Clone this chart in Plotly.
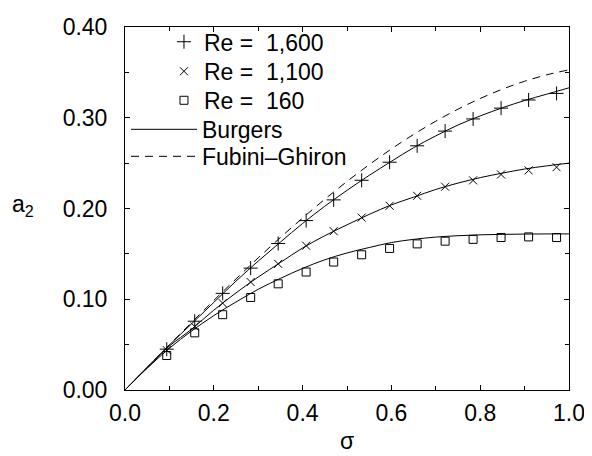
import plotly.graph_objects as go

# ---- data ----
sigma_pts = [0.094, 0.157, 0.220, 0.283, 0.345, 0.408, 0.470, 0.533, 0.596,
             0.658, 0.721, 0.784, 0.847, 0.909, 0.972]
re1600_pts = [0.045, 0.0758, 0.1065, 0.1343, 0.1614, 0.1867, 0.2095, 0.2311,
              0.2510, 0.2691, 0.2853, 0.2987, 0.3106, 0.3196, 0.3268]
re1100_pts = [0.044, 0.0700, 0.0957, 0.1190, 0.1390, 0.1590, 0.1750, 0.1900,
              0.2030, 0.2140, 0.2240, 0.2310, 0.2375, 0.2420, 0.2455]
re160_pts = [0.038, 0.0630, 0.0830, 0.1020, 0.1170, 0.1300, 0.1410, 0.1490,
             0.1560, 0.1610, 0.1640, 0.1660, 0.1680, 0.1687, 0.1680]

sigma_curve = [0.0, 0.05, 0.10, 0.15, 0.20, 0.25, 0.30, 0.35, 0.40, 0.45, 0.50,
               0.55, 0.60, 0.65, 0.70, 0.75, 0.80, 0.85, 0.90, 0.95, 1.00]
burgers_1600 = [0.0, 0.0249, 0.0496, 0.0730, 0.0965, 0.1200, 0.1420, 0.1630,
                0.1835, 0.2025, 0.2200, 0.2365, 0.2520, 0.2670, 0.2800, 0.2920,
                0.3020, 0.3110, 0.3190, 0.3260, 0.3330]
burgers_1100 = [0.0, 0.0248, 0.0485, 0.0670, 0.0880, 0.1070, 0.1245, 0.1405,
                0.1565, 0.1700, 0.1820, 0.1935, 0.2040, 0.2125, 0.2210, 0.2280,
                0.2340, 0.2390, 0.2435, 0.2470, 0.2500]
burgers_160 = [0.0, 0.0240, 0.0460, 0.0650, 0.0820, 0.0970, 0.1110, 0.1230,
               0.1340, 0.1435, 0.1510, 0.1570, 0.1625, 0.1660, 0.1685, 0.1700,
               0.1710, 0.1715, 0.1718, 0.1720, 0.1720]
fubini = [0.0, 0.0250, 0.0498, 0.0744, 0.0987, 0.1224, 0.1456, 0.1680, 0.1895,
          0.2102, 0.2298, 0.2483, 0.2656, 0.2816, 0.2962, 0.3095, 0.3212,
          0.3315, 0.3402, 0.3473, 0.3528]

x_ticks = [0.0, 0.2, 0.4, 0.6, 0.8, 1.0]
x_ticklabels = ["0.0", "0.2", "0.4", "0.6", "0.8", "1.0"]
y_ticks = [0.0, 0.1, 0.2, 0.3, 0.4]
y_ticklabels = ["0.00", "0.10", "0.20", "0.30", "0.40"]

FONT = "Liberation Sans, Arial, sans-serif"
NB = "\u00a0"

fig = go.Figure()
fig.add_trace(go.Scatter(x=sigma_pts, y=re1600_pts, mode="markers",
                         name="Re =" + NB * 2 + "1,600", legend="legend",
                         marker=dict(symbol="cross-thin", size=10, color="black",
                                     line=dict(color="black", width=1))))
fig.add_trace(go.Scatter(x=sigma_pts, y=re1100_pts, mode="markers",
                         name="Re =" + NB * 2 + "1,100", legend="legend2",
                         marker=dict(symbol="x-thin", size=8, color="black",
                                     line=dict(color="black", width=1))))
fig.add_trace(go.Scatter(x=sigma_pts, y=re160_pts, mode="markers",
                         name="Re =" + NB * 2 + "160", legend="legend3",
                         marker=dict(symbol="square-open", size=8, color="black",
                                     line=dict(color="black", width=1))))
for i, ys in enumerate([burgers_1600, burgers_1100, burgers_160]):
    fig.add_trace(go.Scatter(x=sigma_curve, y=ys, mode="lines", name="Burgers",
                             legend="legend4", legendgroup="burgers", showlegend=(i == 0),
                             line=dict(color="black", width=1, shape="spline")))
fig.add_trace(go.Scatter(x=sigma_curve, y=fubini, mode="lines", name="Fubini\u2013Ghiron",
                         legend="legend5",
                         line=dict(color="black", width=1, dash="8px,6px", shape="spline")))

axis_common = dict(showline=True, linecolor="black", linewidth=1, mirror="ticks",
                   ticks="inside", ticklen=5, tickcolor="black", tickwidth=1,
                   showgrid=False, zeroline=False, automargin=False,
                   tickfont=dict(family=FONT, size=23, color="black"))

fig.update_xaxes(range=[0, 1], tickvals=x_ticks, ticktext=x_ticklabels,
                 minor=dict(ticks="inside", ticklen=4, dtick=0.1, tick0=0,
                            tickcolor="black", showgrid=False),
                 ticklabelstandoff=2,
                 **axis_common)
fig.update_yaxes(range=[0, 0.4], tickvals=y_ticks, ticktext=y_ticklabels,
                 minor=dict(ticks="inside", ticklen=4, dtick=0.05, tick0=0,
                            tickcolor="black", showgrid=False),
                 ticklabelstandoff=12,
                 **axis_common)

fig.add_annotation(text="a<sub>2</sub>", xref="paper", yref="paper",
                   x=-0.2297, y=0.507, xanchor="center", yanchor="middle",
                   showarrow=False, font=dict(family=FONT, size=23, color="black"))
fig.add_annotation(text="σ", xref="paper", yref="paper",
                   x=0.5, y=-0.140, xanchor="center", yanchor="middle",
                   height=24, valign="middle",
                   showarrow=False, font=dict(family=FONT, size=23, color="black"))

leg_font = dict(family=FONT, size=23, color="black")
def leg(x, y, w):
    return dict(x=x, y=y, xanchor="left", yanchor="middle", bgcolor="rgba(0,0,0,0)",
                borderwidth=0, font=leg_font, itemwidth=w)

fig.update_layout(
    width=582, height=448,
    margin=dict(l=117, r=21, t=13, b=66),
    paper_bgcolor="white", plot_bgcolor="white",
    showlegend=True,
    legend=leg(0.0878, 0.9593, 30),
    legend2=leg(0.0878, 0.878, 30),
    legend3=leg(0.0878, 0.798, 30),
    legend4=leg(0.0023, 0.718, 66),
    legend5=leg(0.0023, 0.6436, 66),
)

fig.write_html("out.html")
